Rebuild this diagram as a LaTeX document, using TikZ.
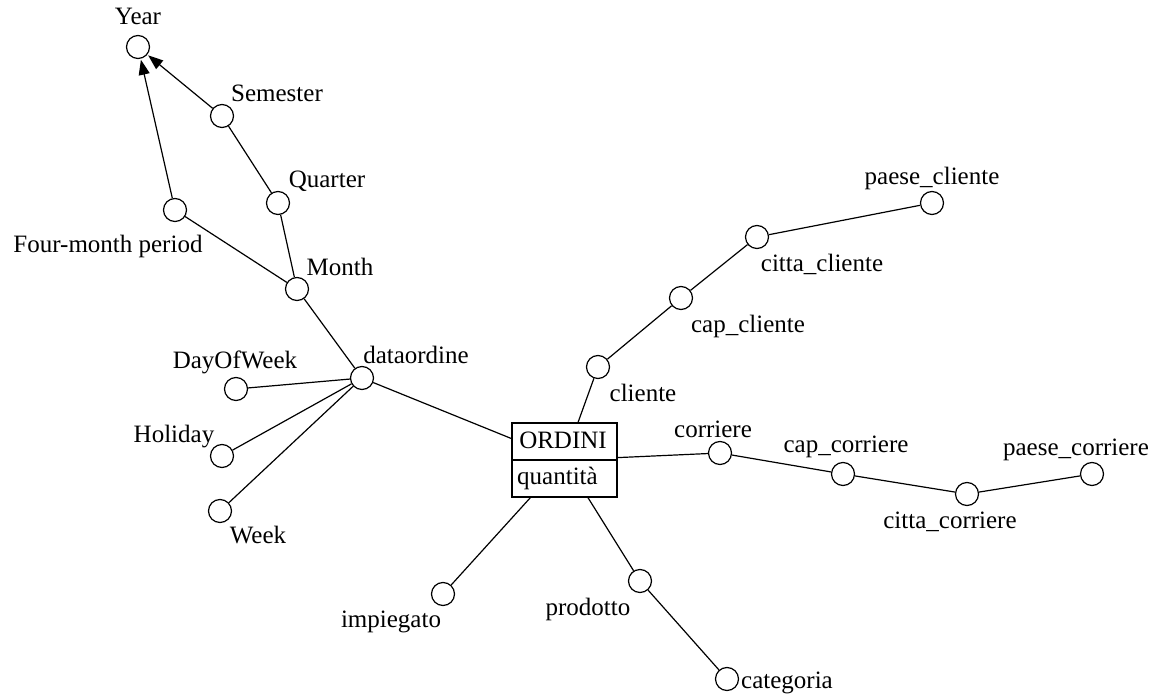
\documentclass[tikz,border=0pt]{standalone}
\usepackage{fontspec}
\setmainfont{Liberation Serif}
\usetikzlibrary{arrows.meta}
\tikzset{
  attr/.style={draw, circle, minimum size=23pt, inner sep=0pt, line width=1.2pt},
  lbl/.style={inner sep=0pt, font=\fontsize{25}{29}\selectfont},
  link/.style={line width=1.2pt},
  hier/.style={line width=1.2pt, -{Triangle[length=15pt,width=11pt]}, shorten >=1pt}
}
\begin{document}
\begin{tikzpicture}[x=1pt, y=-1pt]
  \useasboundingbox (0,0) rectangle (1152,700);
  % Fact box
  \node[draw, line width=1.2pt, minimum width=105pt, minimum height=74pt, inner sep=0pt] (ordini) at (564.5,460) {};
  \draw[link] (ordini.west) -- (ordini.east);
  \node[lbl] (ordtitle) at (563,440) {ORDINI};
  \node[lbl, anchor=west] (ordqty) at (517,478) {quantità};
  % Time hierarchy
  \node[attr] (year) at (138,47) {};
  \node[lbl] (yearlbl) at (138,16) {Year};
  \node[attr] (semester) at (222,116) {};
  \node[lbl] (semesterlbl) at (277,93) {Semester};
  \node[attr] (quarter) at (278,203) {};
  \node[lbl] (quarterlbl) at (327,181) {Quarter};
  \node[attr] (fourmonth) at (175,210) {};
  \node[lbl] (fourmonthlbl) at (108,246) {Four-month period};
  \node[attr] (month) at (297,289) {};
  \node[lbl] (monthlbl) at (340,267) {Month};
  \node[attr] (dataordine) at (362,378) {};
  \node[lbl] (dataordinelbl) at (416,355) {dataordine};
  \node[attr] (dayofweek) at (236,389) {};
  \node[lbl] (dayofweeklbl) at (235,362) {DayOfWeek};
  \node[attr] (holiday) at (222,456) {};
  \node[lbl] (holidaylbl) at (174,437) {Holiday};
  \node[attr] (week) at (220,511) {};
  \node[lbl] (weeklbl) at (258,535) {Week};
  % Cliente branch
  \node[attr] (cliente) at (598,367) {};
  \node[lbl] (clientelbl) at (643,393) {cliente};
  \node[attr] (capcliente) at (681,298) {};
  \node[lbl] (capclientelbl) at (748,326) {cap\_cliente};
  \node[attr] (cittacliente) at (757,237) {};
  \node[lbl] (cittaclientelbl) at (822,264) {citta\_cliente};
  \node[attr] (paesecliente) at (932,203) {};
  \node[lbl] (paeseclientelbl) at (932,178) {paese\_cliente};
  % Corriere branch
  \node[attr] (corriere) at (720,453) {};
  \node[lbl] (corrierelbl) at (713,429) {corriere};
  \node[attr] (capcorriere) at (843,474) {};
  \node[lbl] (capcorrierelbl) at (846,447) {cap\_corriere};
  \node[attr] (cittacorriere) at (967,494) {};
  \node[lbl] (cittacorrierelbl) at (950,522) {citta\_corriere};
  \node[attr] (paesecorriere) at (1092,474) {};
  \node[lbl] (paesecorrierelbl) at (1076,450) {paese\_corriere};
  % Other dimensions
  \node[attr] (impiegato) at (443,594) {};
  \node[lbl] (impiegatolbl) at (391,622) {impiegato};
  \node[attr] (prodotto) at (640,581) {};
  \node[lbl] (prodottolbl) at (588,609) {prodotto};
  \node[attr] (categoria) at (727,679) {};
  \node[lbl, anchor=west] (categorialbl) at (741,683) {categoria};
  % Links
  \draw[hier] (semester) -- (year);
  \draw[hier] (fourmonth) -- (year);
  \draw[link] (semester) -- (quarter);
  \draw[link] (quarter) -- (month);
  \draw[link] (fourmonth) -- (month);
  \draw[link] (month) -- (dataordine);
  \draw[link] (dataordine) -- (dayofweek);
  \draw[link] (dataordine) -- (holiday);
  \draw[link] (dataordine) -- (week);
  \draw[link] (dataordine) -- (ordini);
  \draw[link] (ordini) -- (cliente);
  \draw[link] (cliente) -- (capcliente);
  \draw[link] (capcliente) -- (cittacliente);
  \draw[link] (cittacliente) -- (paesecliente);
  \draw[link] (ordini) -- (corriere);
  \draw[link] (corriere) -- (capcorriere);
  \draw[link] (capcorriere) -- (cittacorriere);
  \draw[link] (cittacorriere) -- (paesecorriere);
  \draw[link] (ordini) -- (impiegato);
  \draw[link] (ordini) -- (prodotto);
  \draw[link] (prodotto) -- (categoria);
\end{tikzpicture}
\end{document}
